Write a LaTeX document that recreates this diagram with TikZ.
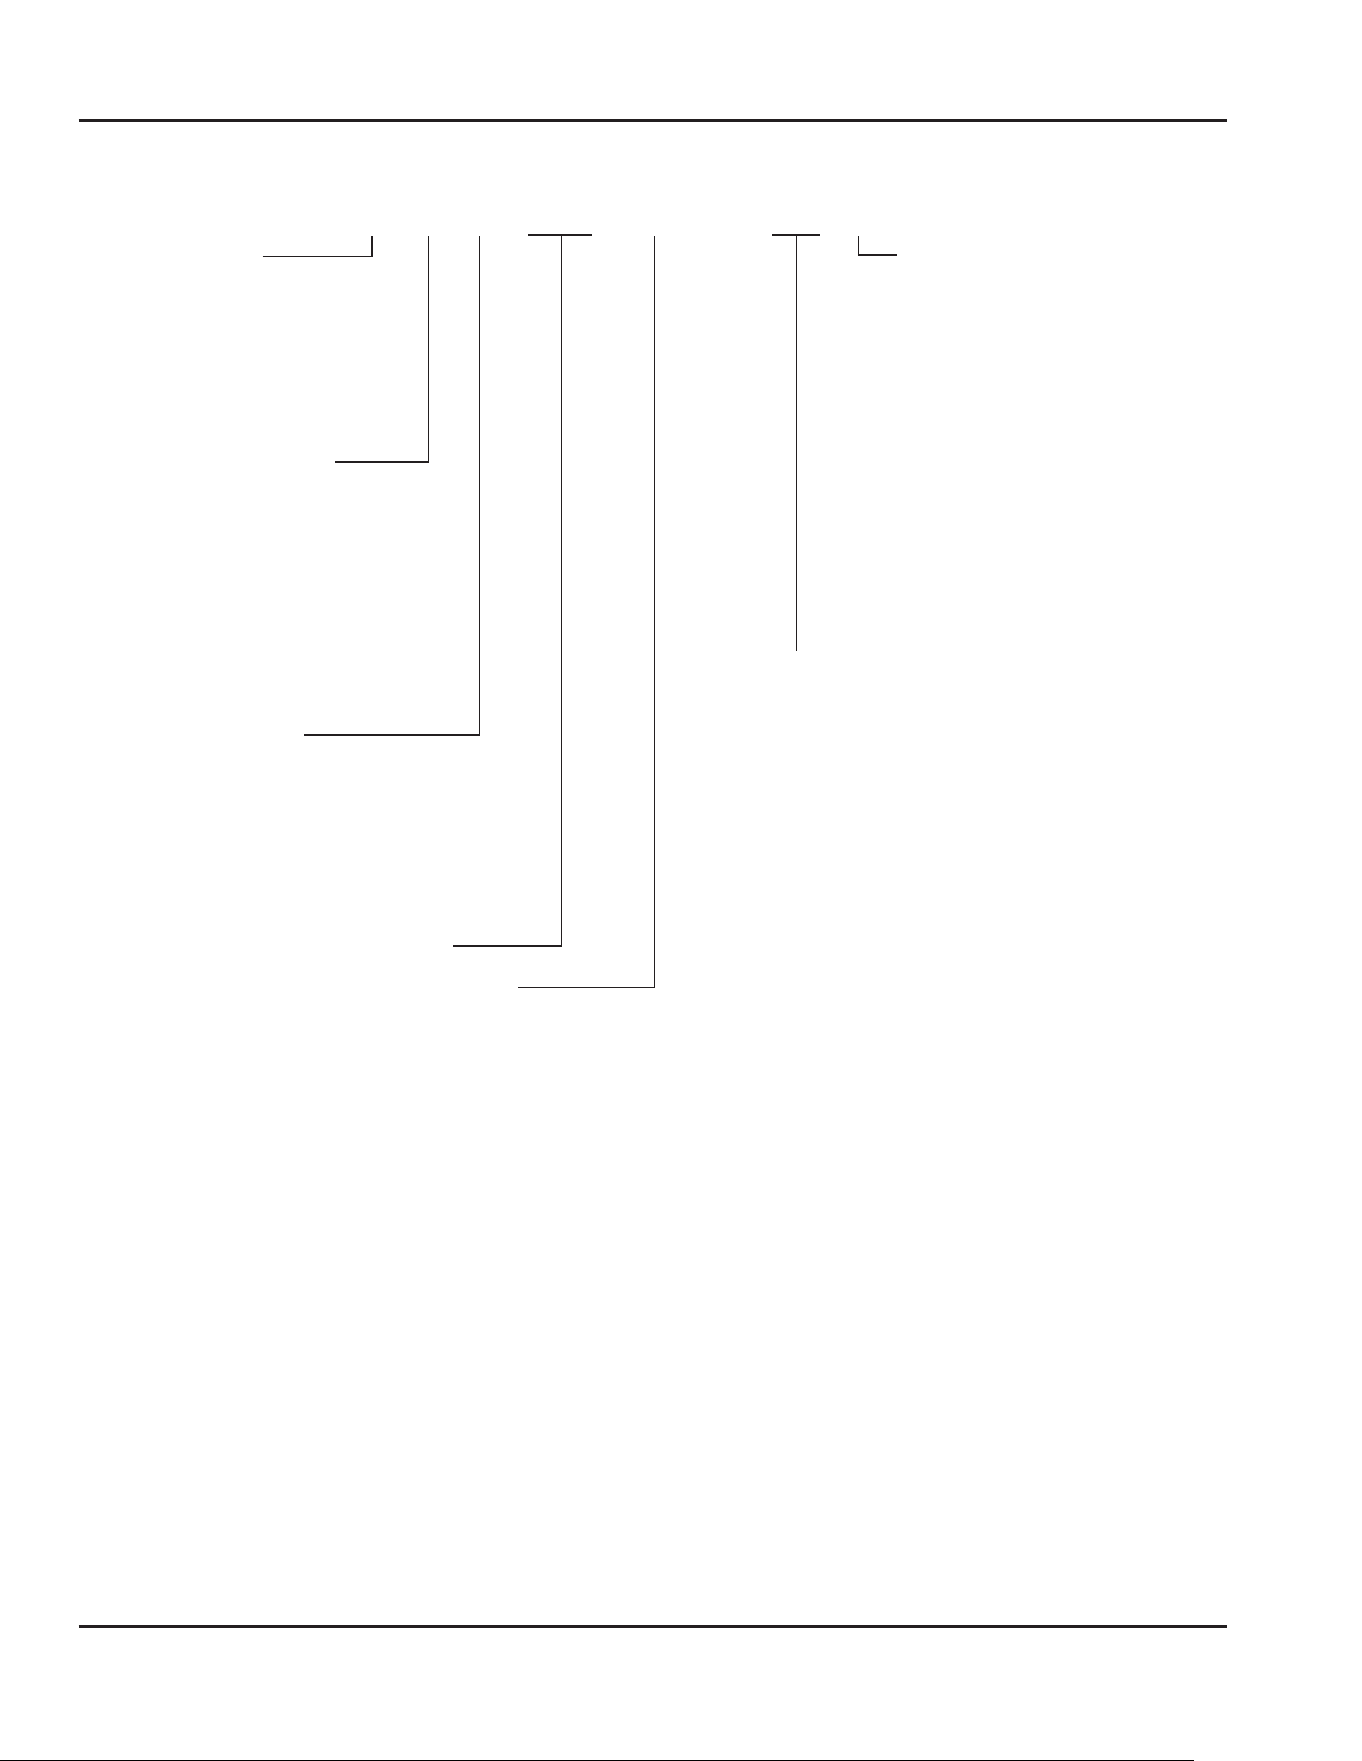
\documentclass[tikz,border=0pt]{standalone}
\definecolor{ink}{RGB}{35,31,32}
\tikzset{
  rule/.style={draw=ink,line width=2.7pt},
  leader/.style={draw=ink,line width=1.1pt},
  bar/.style={draw=ink,line width=1.8pt},
  edgeline/.style={draw=black,line width=1pt}
}
\begin{document}
\begin{tikzpicture}[x=1pt,y=-1pt]
\useasboundingbox (0,0) rectangle (1361,1761);
% rules
\coordinate (tl) at (78.5,120.3); \coordinate (tr) at (1226.5,120.3);
\coordinate (bl) at (78.5,1626.5); \coordinate (br) at (1226.5,1626.5);
\draw[rule] (tl) -- (tr);
\draw[rule] (bl) -- (br);
% leader 1
\coordinate (a0) at (262.5,256.5); \coordinate (a1) at (372,256.5); \coordinate (a2) at (372,235.5);
\draw[leader] (a0) -- (a1) -- (a2);
% leader 2
\coordinate (b0) at (335,462); \coordinate (b1) at (428.5,462); \coordinate (b2) at (428.5,235.5);
\draw[leader] (b0) -- (b1) -- (b2);
% leader 3
\coordinate (c0) at (304,735); \coordinate (c1) at (479.3,735); \coordinate (c2) at (479.3,235.5);
\draw[leader] (c0) -- (c1) -- (c2);
% leader 4 with bar
\coordinate (d0) at (453.3,946); \coordinate (d1) at (561.5,946); \coordinate (d2) at (561.5,234.7);
\coordinate (d3) at (528,234.7); \coordinate (d4) at (592,234.7);
\draw[leader] (d0) -- (d1) -- (d2);
\draw[bar] (d3) -- (d4);
% leader 5
\coordinate (e0) at (518.3,987.5); \coordinate (e1) at (654.3,987.5); \coordinate (e2) at (654.3,235.5);
\draw[leader] (e0) -- (e1) -- (e2);
% leader 6 with bar
\coordinate (f0) at (796.3,650.8); \coordinate (f1) at (796.3,234.7);
\coordinate (f2) at (772,234.7); \coordinate (f3) at (819.7,234.7);
\draw[leader] (f0) -- (f1);
\draw[bar] (f2) -- (f3);
% leader 7
\coordinate (g0) at (858.3,236); \coordinate (g1) at (858.3,254.7); \coordinate (g2) at (897,254.7);
\draw[leader] (g0) -- (g1);
\draw[bar,line width=1.6pt] ([xshift=-0.55pt]g1) -- (g2);
% bottom edge line
\coordinate (h0) at (0,1760.5); \coordinate (h1) at (1194,1760.5);
\draw[edgeline] (h0) -- (h1);
\end{tikzpicture}
\end{document}
